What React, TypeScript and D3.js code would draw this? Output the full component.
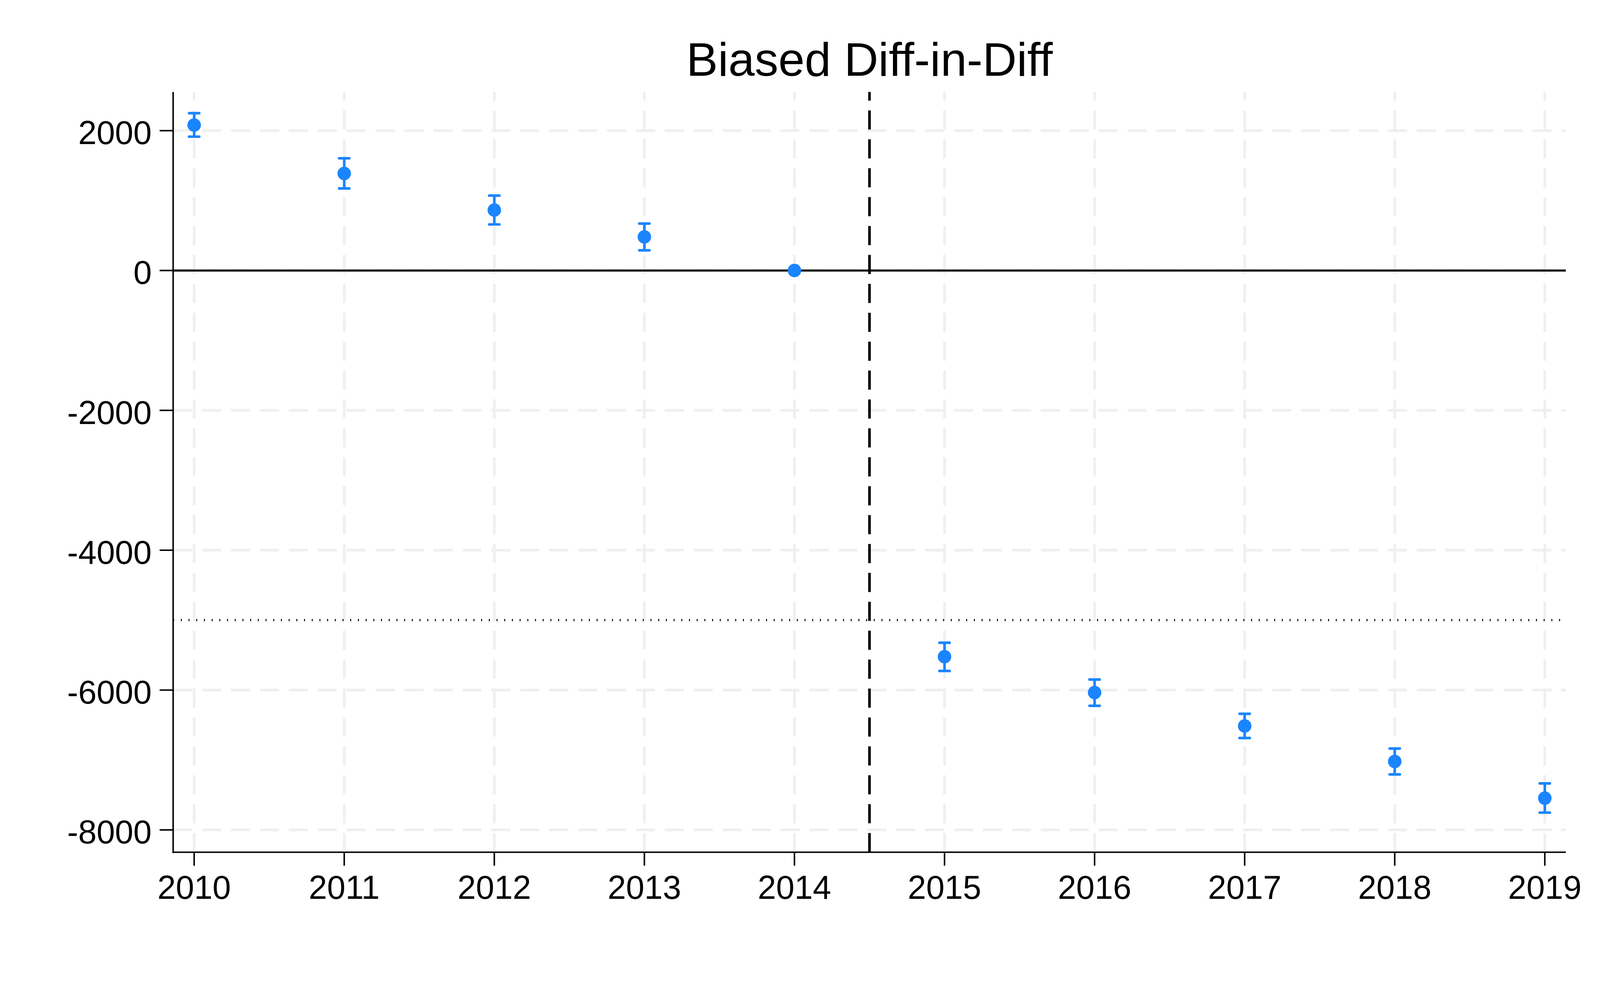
import React from "react";
import * as d3 from "d3";

const title = "Biased Diff-in-Diff";
const years = [2010, 2011, 2012, 2013, 2014, 2015, 2016, 2017, 2018, 2019];
const coef = [2080, 1388, 864, 480, 0, -5523, -6036, -6514, -7021, -7546];
const ciLow = [1914, 1173, 659, 289, 0, -5727, -6225, -6686, -7207, -7753];
const ciHigh = [2250, 1605, 1071, 671, 0, -5324, -5850, -6339, -6836, -7335];
const yTicks = [2000, 0, -2000, -4000, -6000, -8000];
const xTicks = years;
const treatLine = 2014.5;
const refLine = -5000;

const W = 4260;
const H = 2556;
const FONT = "'Liberation Sans', Arial, Helvetica, sans-serif";
const BLUE = "#1a85ff";
const GRID = "#efefef";

export default function App() {
  const left = 461, right = 4169, top = 245, bottom = 2270;
  const x = d3.scaleLinear().domain([2009.86, 2019.14]).range([left, right]);
  const y = d3.scaleLinear().domain([-8319, 2553]).range([bottom, top]);

  const rows = years.map((yr, i) => ({ yr, c: coef[i], lo: ciLow[i], hi: ciHigh[i] }));

  return (
    <svg
      viewBox={`0 0 ${W} ${H}`}
      preserveAspectRatio="xMinYMin meet"
      style={{
        position: "fixed",
        left: 0,
        top: 0,
        width: "100vw",
        height: `calc(100vw * ${H} / ${W})`,
        background: "#fff",
        display: "block",
      }}
    >
      <rect x={0} y={0} width={W} height={H} fill="#fff" />
      {/* title */}
      <text
        x={(left + right) / 2}
        y={202}
        textAnchor="middle"
        fontFamily={FONT}
        fontSize={126}
        fill="#000"
      >
        {title}
      </text>

      {/* horizontal gridlines */}
      {yTicks.map((t) => (
        <line
          key={"hg" + t}
          x1={left}
          x2={right}
          y1={y(t)}
          y2={y(t)}
          stroke={GRID}
          strokeWidth={7}
          strokeDasharray="51 26"
        />
      ))}
      {/* vertical gridlines (drawn bottom to top) */}
      {xTicks.map((t) => (
        <line
          key={"vg" + t}
          x1={x(t)}
          x2={x(t)}
          y1={bottom}
          y2={top}
          stroke={GRID}
          strokeWidth={7}
          strokeDasharray="51 26"
        />
      ))}

      {/* zero line */}
      <line x1={left} x2={right} y1={y(0)} y2={y(0)} stroke="#000" strokeWidth={5.5} />
      {/* dotted reference line */}
      <line
        x1={left}
        x2={right - 5}
        y1={y(refLine)}
        y2={y(refLine)}
        stroke="#000"
        strokeWidth={6}
        strokeDasharray="2.6 17.9"
      />
      {/* dashed treatment line */}
      <line
        x1={x(treatLine)}
        x2={x(treatLine)}
        y1={bottom}
        y2={top}
        stroke="#000"
        strokeWidth={7}
        strokeDasharray="51 26"
      />

      {/* axes */}
      <line x1={left} x2={left} y1={top} y2={bottom + 2} stroke="#000" strokeWidth={4} />
      <line x1={left - 2} x2={right} y1={bottom} y2={bottom} stroke="#000" strokeWidth={4} />

      {/* y ticks + labels */}
      {yTicks.map((t) => (
        <g key={"yt" + t}>
          <line x1={left - 36} x2={left} y1={y(t)} y2={y(t)} stroke="#000" strokeWidth={4} />
          <text
            x={404}
            y={y(t) + 36}
            textAnchor="end"
            fontFamily={FONT}
            fontSize={88}
            fill="#000"
          >
            {String(t)}
          </text>
        </g>
      ))}
      {/* x ticks + labels */}
      {xTicks.map((t) => (
        <g key={"xt" + t}>
          <line x1={x(t)} x2={x(t)} y1={bottom} y2={bottom + 36} stroke="#000" strokeWidth={4} />
          <text
            x={x(t)}
            y={2394}
            textAnchor="middle"
            fontFamily={FONT}
            fontSize={88}
            fill="#000"
          >
            {String(t)}
          </text>
        </g>
      ))}

      {/* error bars and points */}
      {rows.map((r) => (
        <g key={"pt" + r.yr}>
          {r.hi !== r.lo && (
            <g stroke={BLUE} strokeWidth={7} strokeLinecap="round">
              <line x1={x(r.yr)} x2={x(r.yr)} y1={y(r.lo)} y2={y(r.hi)} strokeLinecap="butt" />
              <line x1={x(r.yr) - 13.5} x2={x(r.yr) + 13.5} y1={y(r.hi)} y2={y(r.hi)} />
              <line x1={x(r.yr) - 13.5} x2={x(r.yr) + 13.5} y1={y(r.lo)} y2={y(r.lo)} />
            </g>
          )}
          <circle cx={x(r.yr)} cy={y(r.c)} r={18} fill={BLUE} />
        </g>
      ))}
    </svg>
  );
}
